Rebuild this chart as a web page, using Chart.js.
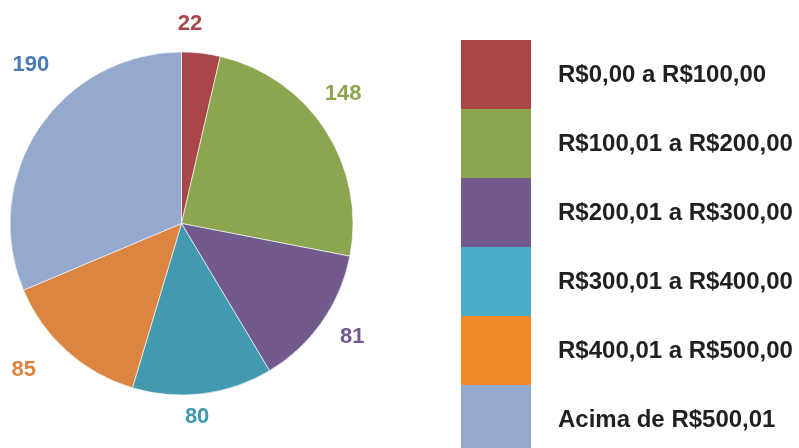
<!DOCTYPE html>
<html><head><meta charset="utf-8">
<script src="https://cdn.jsdelivr.net/npm/chart.js@4/dist/chart.umd.min.js"></script>
<style>html,body{margin:0;padding:0;background:#fff;}canvas{display:block;}</style>
</head><body>
<canvas id="c" width="799" height="448"></canvas>
<script>
const categories = ["R$0,00 a R$100,00","R$100,01 a R$200,00","R$200,01 a R$300,00","R$300,01 a R$400,00","R$400,01 a R$500,00","Acima de R$500,01"];
const counts = [22, 148, 81, 80, 85, 190];
const sliceColors = ["#A8464A","#8BA64F","#72598E","#4399AF","#DB8540","#95A9CF"];
const legendColors = ["#A84648","#8BA64F","#72598E","#4AABC5","#F38A2A","#95A9CF"];
const labelColors = ["#A8464A","#8AA64F","#72598E","#4399AF","#DB8540","#4A7AB5"];
// label placement: angular shift from slice mid-angle (deg) and radial gap beyond the rim (px)
const labelShift = [-4.1, -5.9, -1.7, 2.5, 5.5, 13.1];
const labelGap = [29.7, 36, 32.9, 22, 43, 48];

const valueLabels = {
  id: 'valueLabels',
  afterDatasetsDraw(chart) {
    const ctx = chart.ctx;
    const meta = chart.getDatasetMeta(0);
    ctx.save();
    ctx.font = 'bold 22px "Liberation Sans", Arial, sans-serif';
    ctx.textAlign = 'center';
    ctx.textBaseline = 'middle';
    meta.data.forEach((arc, i) => {
      const p = arc.getProps(['x','y','startAngle','endAngle','outerRadius'], true);
      const mid = (p.startAngle + p.endAngle) / 2 + labelShift[i] * Math.PI / 180;
      const d = p.outerRadius + labelGap[i];
      ctx.fillStyle = labelColors[i];
      ctx.fillText(String(counts[i]), p.x + d * Math.cos(mid), p.y + d * Math.sin(mid) + 1);
    });
    ctx.restore();
  }
};

const blockLegend = {
  id: 'blockLegend',
  afterDraw(chart) {
    const ctx = chart.ctx;
    const x0 = 461, w = 70, y0 = 40, h = 69;
    ctx.save();
    ctx.font = 'bold 24px "Liberation Sans", Arial, sans-serif';
    ctx.textBaseline = 'middle';
    ctx.textAlign = 'left';
    chart.data.labels.forEach((lab, i) => {
      ctx.fillStyle = legendColors[i];
      ctx.fillRect(x0, y0 + i * h, w, h + 0.5);
      ctx.fillStyle = '#231F20';
      ctx.fillText(lab, 558, y0 + i * h + h / 2 + 1);
    });
    ctx.restore();
  }
};

new Chart(document.getElementById('c'), {
  type: 'pie',
  data: {
    labels: categories,
    datasets: [{ data: counts, backgroundColor: sliceColors, borderColor: 'rgba(255,255,255,0.6)', borderWidth: 1 }]
  },
  options: {
    responsive: false,
    animation: false,
    layout: { padding: { left: 9.5, top: 51.5, right: 445.5, bottom: 52.5 } },
    plugins: { legend: { display: false }, tooltip: { enabled: false } }
  },
  plugins: [valueLabels, blockLegend]
});
</script>
</body></html>
